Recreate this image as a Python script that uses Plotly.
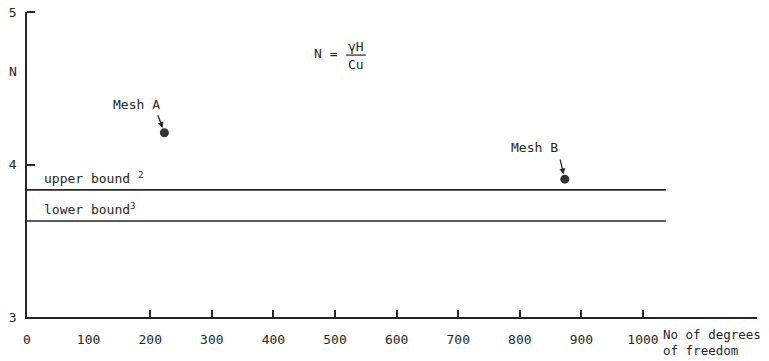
import plotly.graph_objects as go

# Data
mesh_names = ["Mesh A", "Mesh B"]
mesh_dof = [223, 873]
mesh_N = [4.21, 3.905]
bound_names = ["upper bound ", "lower bound"]
bound_refs = ["2", "3"]
bound_N = [3.835, 3.63]
bound_x = [0, 1037]
x_ticks = [0, 100, 200, 300, 400, 500, 600, 700, 800, 900, 1000]
x_tick_marks = [200, 300, 400, 500, 600, 700, 800, 900, 1000]
y_ticks = [3, 4, 5]
y_tick_marks = [4, 5]

INK = "#262626"
FONT = dict(family="DejaVu Sans Mono", size=13, color=INK)

fig = go.Figure()

for n in bound_N:
    fig.add_trace(go.Scatter(x=bound_x, y=[n, n], mode="lines",
                             line=dict(color=INK, width=1.6), showlegend=False,
                             hoverinfo="skip"))

fig.add_trace(go.Scatter(x=mesh_dof, y=mesh_N, mode="markers",
                         marker=dict(color="#333333", size=9),
                         showlegend=False))

ann = []
# mesh labels and arrows
label_off = [(-28, -28), (-30, -32)]
arrow_off = [(-7, -19), (-5, -21)]
for name, x, y, lo, ao in zip(mesh_names, mesh_dof, mesh_N, label_off, arrow_off):
    ann.append(dict(x=x, y=y, text=name, showarrow=True, arrowcolor="rgba(0,0,0,0)",
                    ax=lo[0], ay=lo[1], font=FONT))
    ann.append(dict(x=x, y=y, text="", showarrow=True, arrowhead=2, arrowsize=0.9,
                    arrowwidth=1.3, arrowcolor=INK, ax=ao[0], ay=ao[1], standoff=5))

# bound labels
bound_label_y = [3.91, 3.71]
for name, ref, ly in zip(bound_names, bound_refs, bound_label_y):
    ann.append(dict(x=24, y=ly, text=f"{name}<sup>{ref}</sup>", showarrow=False,
                    xanchor="left", font=FONT))

# formula
ann.append(dict(x=485, y=4.73, text="N =", showarrow=False, font=FONT))
ann.append(dict(x=534, y=4.775, text="γH", showarrow=False, font=FONT))
ann.append(dict(x=534, y=4.655, text="Cu", showarrow=False, font=FONT))
# y axis title
ann.append(dict(xref="paper", x=-0.028, y=4.61, text="N", showarrow=False, font=FONT))
# x axis title
ann.append(dict(xref="paper", yref="paper", x=0.869, y=-0.025, xanchor="left", yanchor="top",
                text="No of degrees<br>of freedom", showarrow=False, align="left",
                font=dict(family="DejaVu Sans Mono", size=12.5, color=INK)))

fig.add_shape(type="line", x0=518, x1=550, y0=4.72, y1=4.72,
              line=dict(color=INK, width=1.2))

fig.update_layout(
    width=769, height=361,
    margin=dict(l=27, r=12, t=12, b=44),
    paper_bgcolor="white", plot_bgcolor="white",
    annotations=ann,
    font=FONT,
    xaxis=dict(range=[0, 1185], tickvals=x_ticks, ticktext=[str(v) for v in x_ticks],
               showline=True, linecolor=INK, linewidth=1.5, ticks="",
               showgrid=False, zeroline=False, tickfont=FONT,
               ticklabelstandoff=10, automargin=False, ticklabeloverflow="allow",
               minor=dict(tickvals=x_tick_marks, ticks="inside", ticklen=7,
                          tickcolor=INK, tickwidth=1.5, showgrid=False)),
    yaxis=dict(range=[3, 5.003], tickvals=y_ticks, showline=True, linecolor=INK,
               linewidth=1.5, ticks="", showgrid=False, zeroline=False,
               tickfont=FONT, ticklabelstandoff=6, automargin=False,
               ticklabeloverflow="allow",
               minor=dict(tickvals=y_tick_marks, ticks="inside", ticklen=8,
                          tickcolor=INK, tickwidth=1.5, showgrid=False)),
)

fig.write_html("out.html", config={"displayModeBar": False},
               post_script="document.body.style.margin='0';")
